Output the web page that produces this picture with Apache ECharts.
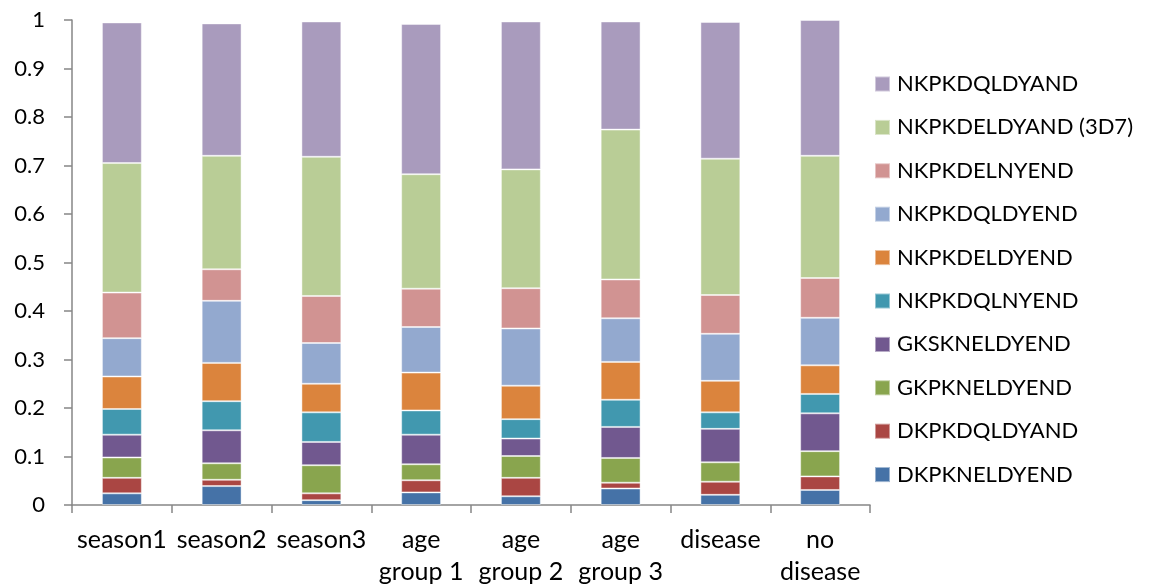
<!DOCTYPE html>
<html>
<head>
<meta charset="utf-8">
<script src="https://cdn.jsdelivr.net/npm/echarts@6/dist/echarts.min.js"></script>
<style>
  html, body { margin: 0; padding: 0; background: #ffffff; }
  #chart { width: 1150px; height: 588px; }
</style>
</head>
<body>
<div id="chart"></div>
<script>
// Sample groups along the x axis
const categories = ['season1', 'season2', 'season3', 'age\ngroup 1', 'age\ngroup 2', 'age\ngroup 3', 'disease', 'no\ndisease'];

// Haplotype proportions per group, listed bottom of the stack to top
const DKPKNELDYEND = [0.024, 0.039, 0.010, 0.026, 0.018, 0.034, 0.021, 0.031];
const DKPKDQLDYAND = [0.032, 0.013, 0.014, 0.025, 0.038, 0.012, 0.027, 0.028];
const GKPKNELDYEND = [0.042, 0.034, 0.058, 0.033, 0.045, 0.051, 0.040, 0.052];
const GKSKNELDYEND = [0.047, 0.068, 0.048, 0.061, 0.036, 0.064, 0.069, 0.078];
const NKPKDQLNYEND = [0.053, 0.060, 0.061, 0.050, 0.040, 0.056, 0.034, 0.040];
const NKPKDELDYEND = [0.067, 0.079, 0.059, 0.078, 0.069, 0.078, 0.065, 0.059];
const NKPKDQLDYEND = [0.079, 0.128, 0.084, 0.094, 0.118, 0.090, 0.097, 0.098];
const NKPKDELNYEND = [0.094, 0.065, 0.097, 0.079, 0.083, 0.080, 0.080, 0.082];
const NKPKDELDYAND_3D7 = [0.267, 0.234, 0.287, 0.236, 0.245, 0.309, 0.281, 0.252];
const NKPKDQLDYAND = [0.290, 0.273, 0.279, 0.310, 0.305, 0.223, 0.282, 0.280];

// Y axis ticks
const yMin = 0, yMax = 1, yStep = 0.1;

const seriesDefs = [
  { name: 'DKPKNELDYEND', data: DKPKNELDYEND, color: '#4572A7' },
  { name: 'DKPKDQLDYAND', data: DKPKDQLDYAND, color: '#AA4643' },
  { name: 'GKPKNELDYEND', data: GKPKNELDYEND, color: '#89A54E' },
  { name: 'GKSKNELDYEND', data: GKSKNELDYEND, color: '#71588F' },
  { name: 'NKPKDQLNYEND', data: NKPKDQLNYEND, color: '#4198AF' },
  { name: 'NKPKDELDYEND', data: NKPKDELDYEND, color: '#DB843D' },
  { name: 'NKPKDQLDYEND', data: NKPKDQLDYEND, color: '#93A9CF' },
  { name: 'NKPKDELNYEND', data: NKPKDELNYEND, color: '#D19392' },
  { name: 'NKPKDELDYAND (3D7)', data: NKPKDELDYAND_3D7, color: '#B9CD96' },
  { name: 'NKPKDQLDYAND', data: NKPKDQLDYAND, color: '#A99BBD' }
];

const FONT = 'Lato';
const axisGrey = '#868686';

const chart = echarts.init(document.getElementById('chart'), null, { renderer: 'canvas' });

chart.setOption({
  animation: false,
  backgroundColor: '#ffffff',
  textStyle: { fontFamily: FONT },
  grid: { left: 72, right: 280, top: 20, bottom: 82, containLabel: false },
  legend: {
    orient: 'vertical',
    left: 869,
    top: 68,
    icon: 'rect',
    itemWidth: 15,
    itemHeight: 15,
    itemGap: 21.4,
    data: seriesDefs.map(s => s.name).reverse(),
    textStyle: { fontFamily: FONT, fontSize: 22, color: '#000000', padding: [0, 0, 0, 2] }
  },
  xAxis: {
    type: 'category',
    data: categories,
    boundaryGap: true,
    axisLine: { lineStyle: { color: axisGrey, width: 1.5 } },
    axisTick: { show: true, length: 8, alignWithLabel: false, lineStyle: { color: axisGrey, width: 1.5 } },
    axisLabel: {
      interval: 0,
      margin: 19,
      fontFamily: FONT,
      fontSize: 25,
      lineHeight: 32,
      color: '#000000',
      align: 'center'
    },
    splitLine: { show: false }
  },
  yAxis: {
    type: 'value',
    min: yMin,
    max: yMax,
    interval: yStep,
    axisLine: { show: true, lineStyle: { color: axisGrey, width: 1.5 } },
    axisTick: { show: true, length: 8, lineStyle: { color: axisGrey, width: 1.5 } },
    axisLabel: {
      margin: 27,
      fontFamily: FONT,
      fontSize: 22,
      color: '#000000',
      formatter: v => String(Math.round(v * 10) / 10)
    },
    splitLine: { show: false }
  },
  series: seriesDefs.map(s => ({
    name: s.name,
    type: 'bar',
    stack: 'total',
    barWidth: '40%',
    data: s.data,
    itemStyle: { color: s.color, borderColor: 'rgba(255,255,255,0.45)', borderWidth: 1 },
    emphasis: { disabled: true }
  }))
});
</script>
</body>
</html>
